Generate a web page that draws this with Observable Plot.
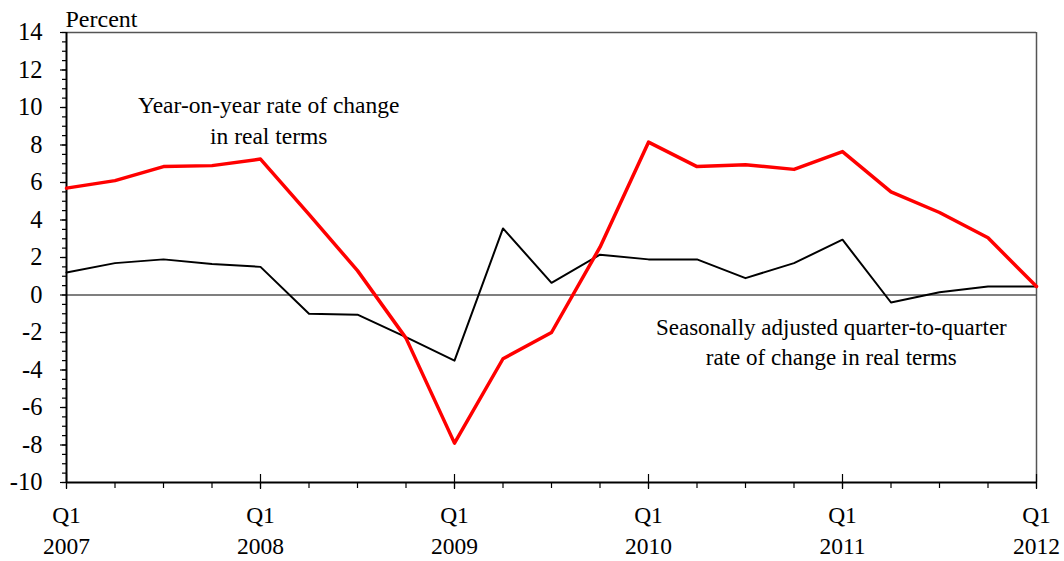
<!DOCTYPE html>
<html>
<head>
<meta charset="utf-8">
<script src="https://cdn.jsdelivr.net/npm/d3@7"></script>
<script src="https://cdn.jsdelivr.net/npm/@observablehq/plot@0.6"></script>
<style>
  html, body { margin: 0; padding: 0; background: white; }
</style>
</head>
<body>
<div id="chart"></div>
<script>
// Quarter index 0 = 2007 Q1 ... 20 = 2012 Q1
const quarterIndex = d3.range(0, 21);
const yearLabels = ["2007", "2008", "2009", "2010", "2011", "2012"];
const yearTickIndex = [0, 4, 8, 12, 16, 20];

// Year-on-year rate of change in real terms (red)
const yoy = [5.7, 6.1, 6.85, 6.9, 7.25, 4.3, 1.3, -2.3, -7.9, -3.4, -2.0, 2.55, 8.15, 6.85, 6.95, 6.7, 7.65, 5.5, 4.4, 3.05, 0.45];
// Seasonally adjusted quarter-to-quarter rate of change in real terms (black)
const qoq = [1.2, 1.7, 1.9, 1.65, 1.5, -1.0, -1.05, -2.25, -3.5, 3.55, 0.65, 2.15, 1.9, 1.9, 0.9, 1.7, 2.95, -0.4, 0.15, 0.45, 0.45];

const yMajor = d3.range(-10, 15, 2);
const yMinor = d3.range(-10, 14.01, 0.5);

const yoyData = quarterIndex.map((q, i) => ({q, v: yoy[i]}));
const qoqData = quarterIndex.map((q, i) => ({q, v: qoq[i]}));

const annotations = [
  {q: 4.17, v: 9.41, size: 23.5, text: "Year-on-year rate of change\nin real terms"},
  {q: 15.77, v: -2.43, size: 23, text: "Seasonally adjusted quarter-to-quarter\nrate of change in real terms"}
];

const blank = () => "";

const chart = Plot.plot({
  width: 1064,
  height: 561,
  marginLeft: 66,
  marginRight: 28,
  marginTop: 32,
  marginBottom: 79,
  style: {fontFamily: "'Liberation Serif', 'Times New Roman', serif", fontSize: "23px", background: "white", color: "black", overflow: "visible"},
  x: {domain: [0, 20], label: null},
  y: {domain: [-10, 14], label: null},
  marks: [
    // frame: top and right gray
    Plot.ruleY([14], {stroke: "#555", strokeWidth: 1.5}),
    Plot.ruleX([20], {stroke: "#555", strokeWidth: 1.5}),
    // zero line
    Plot.ruleY([0], {stroke: "#555", strokeWidth: 1.5}),
    // y axis ticks
    Plot.axisY({ticks: yMinor, tickSize: 4, tickFormat: blank, label: null, stroke: "black", strokeWidth: 1.2}),
    Plot.axisY({ticks: yMajor, tickSize: 6, tickPadding: 18, tickFormat: d => String(d), label: null, fontSize: 24.5, stroke: "black", strokeWidth: 1.2}),
    // x axis ticks
    Plot.axisX({ticks: quarterIndex, tickSize: 6, tickFormat: blank, label: null, stroke: "black", strokeWidth: 1.2}),
    Plot.axisX({ticks: yearTickIndex, tickSize: 15, dy: -8, tickFormat: blank, label: null, stroke: "black", strokeWidth: 1.2}),
    // x labels
    Plot.text(yearTickIndex, {x: d => d, text: () => "Q1", frameAnchor: "bottom", dy: 33, lineAnchor: "middle", fontSize: 23.5}),
    Plot.text(yearTickIndex, {x: d => d, text: (d, i) => yearLabels[i], frameAnchor: "bottom", dy: 64, lineAnchor: "middle", fontSize: 23.5}),
    // left and bottom axis lines
    Plot.ruleX([0], {stroke: "black", strokeWidth: 2}),
    Plot.ruleY([-10], {stroke: "black", strokeWidth: 2}),
    // series
    Plot.line(qoqData, {x: "q", y: "v", stroke: "black", strokeWidth: 2}),
    Plot.line(yoyData, {x: "q", y: "v", stroke: "#ff0000", strokeWidth: 3.5}),
    // annotations
    Plot.text(annotations, {x: "q", y: "v", text: "text", fontSize: "size", lineHeight: 1.3, lineAnchor: "middle", textAnchor: "middle"}),
    // unit label
    Plot.text(["Percent"], {frameAnchor: "top-left", dx: -1, dy: -13, textAnchor: "start", lineAnchor: "middle", fontSize: 24})
  ]
});

document.getElementById("chart").appendChild(chart);
</script>
</body>
</html>
